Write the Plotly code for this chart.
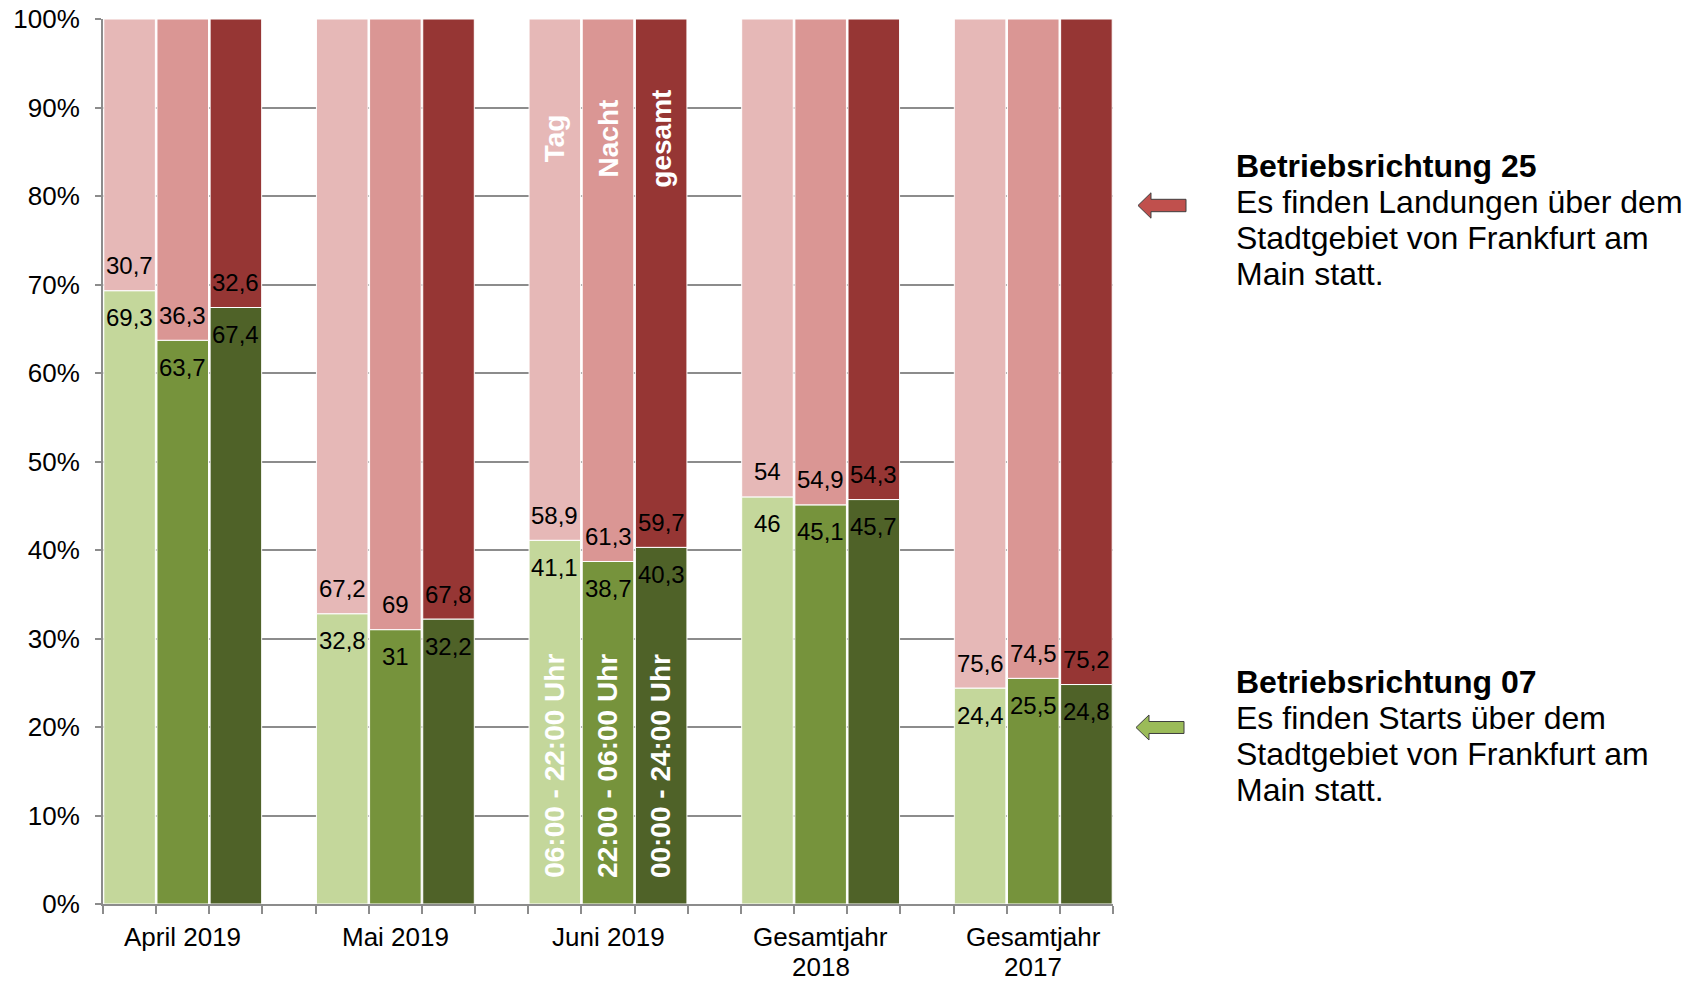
import plotly.graph_objects as go

# Anteile der Betriebsrichtungen (in %)
category_lines = [["April 2019"], ["Mai 2019"], ["Juni 2019"],
                  ["Gesamtjahr", "2018"], ["Gesamtjahr", "2017"]]
periods = ["Tag", "Nacht", "gesamt"]
period_hours = ["06:00 - 22:00 Uhr", "22:00 - 06:00 Uhr", "00:00 - 24:00 Uhr"]

br07_tag = [69.3, 32.8, 41.1, 46, 24.4]
br07_nacht = [63.7, 31, 38.7, 45.1, 25.5]
br07_gesamt = [67.4, 32.2, 40.3, 45.7, 24.8]

br25_tag = [30.7, 67.2, 58.9, 54, 75.6]
br25_nacht = [36.3, 69, 61.3, 54.9, 74.5]
br25_gesamt = [32.6, 67.8, 59.7, 54.3, 75.2]

y_ticks = list(range(0, 101, 10))

# Farben
green_colors = ["#C4D79B", "#76933C", "#4F6228"]
red_colors = ["#E6B8B7", "#DA9694", "#963634"]
GRID = "#8C8C8C"
FONT = "Liberation Sans, Arial, sans-serif"

W, H = 1691, 981
PLOT_L, PLOT_R, PLOT_T, PLOT_B = 103, 1113, 19, 904


def px_x(px):
    return (px - PLOT_L) / (PLOT_R - PLOT_L)


def px_y(py):
    return (PLOT_B - py) / (PLOT_B - PLOT_T)


def fmt(v):
    return f"{v:g}".replace(".", ",")


n_groups = len(category_lines)
slot = 4  # 3 Balken + 1 Leerspalte je Gruppe
green_series = [br07_tag, br07_nacht, br07_gesamt]
red_series = [br25_tag, br25_nacht, br25_gesamt]

fig = go.Figure()
annotations = []

for k in range(3):
    xs = [slot * g + k for g in range(n_groups)]
    fig.add_trace(go.Bar(
        x=xs, y=green_series[k], width=0.97,
        marker=dict(color=green_colors[k], line=dict(color="white", width=1)),
        name=f"BR 07 {periods[k]}", hoverinfo="skip",
    ))
for k in range(3):
    xs = [slot * g + k for g in range(n_groups)]
    fig.add_trace(go.Bar(
        x=xs, y=red_series[k], width=0.97,
        base=green_series[k],
        marker=dict(color=red_colors[k], line=dict(color="white", width=1)),
        name=f"BR 25 {periods[k]}", hoverinfo="skip",
    ))

# Wertebeschriftungen an der Grenze zwischen den Segmenten
for k in range(3):
    for g in range(n_groups):
        x = slot * g + k
        gv = green_series[k][g]
        rv = red_series[k][g]
        annotations.append(dict(
            x=x, y=gv, xref="x", yref="y", text=fmt(gv), showarrow=False,
            yanchor="middle", yshift=-27, font=dict(size=24, color="black", family=FONT)))
        annotations.append(dict(
            x=x, y=gv, xref="x", yref="y", text=fmt(rv), showarrow=False,
            yanchor="middle", yshift=25, font=dict(size=24, color="black", family=FONT)))

# Senkrechte Erläuterungen in der Juni-Gruppe
juni = 2
for k in range(3):
    x = slot * juni + k
    annotations.append(dict(
        x=x, y=86.5, xref="x", yref="y", text=f"<b>{periods[k]}</b>", textangle=-90,
        showarrow=False, font=dict(size=28, color="white", family=FONT)))
    annotations.append(dict(
        x=x, y=15.6, xref="x", yref="y", text=f"<b>{period_hours[k]}</b>", textangle=-90,
        showarrow=False, font=dict(size=28, color="white", family=FONT)))

# Kategorienbeschriftung unter der x-Achse
line_centers = [936.5, 967]
for g, lines in enumerate(category_lines):
    for i, line in enumerate(lines):
        annotations.append(dict(
            x=slot * g + 1, y=px_y(line_centers[i]), xref="x", yref="paper",
            text=line, showarrow=False, yanchor="middle",
            font=dict(size=26, color="black", family=FONT)))

# Erklärungstexte rechts
legend_blocks = [
    (["<b>Betriebsrichtung 25</b>", "Es finden Landungen über dem",
      "Stadtgebiet von Frankfurt am", "Main statt."], 166),
    (["<b>Betriebsrichtung 07</b>", "Es finden Starts über dem",
      "Stadtgebiet von Frankfurt am", "Main statt."], 682),
]
for lines, top in legend_blocks:
    for i, line in enumerate(lines):
        annotations.append(dict(
            x=px_x(1234), y=px_y(top + 36 * i), xref="paper", yref="paper",
            text=line, showarrow=False, xanchor="left", yanchor="middle",
            font=dict(size=32, color="black", family=FONT)))


def arrow_path(tip_x, cy, head_x, tail_x, head_h, shaft_h):
    pts = [(tip_x, cy), (head_x, cy - head_h), (head_x, cy - shaft_h),
           (tail_x, cy - shaft_h), (tail_x, cy + shaft_h), (head_x, cy + shaft_h),
           (head_x, cy + head_h)]
    return "M " + " L ".join(f"{px_x(a):.5f},{px_y(b):.5f}" for a, b in pts) + " Z"


shapes = [
    dict(type="path", xref="paper", yref="paper",
         path=arrow_path(1138, 205.5, 1151, 1186, 12.7, 6.2),
         fillcolor="#C0504D", line=dict(color="#3F3F3F", width=1)),
    dict(type="path", xref="paper", yref="paper",
         path=arrow_path(1136, 727.5, 1149, 1184, 12.5, 6.0),
         fillcolor="#9BBB59", line=dict(color="#3F3F3F", width=1)),
]

fig.update_layout(
    width=W, height=H,
    margin=dict(l=PLOT_L, r=W - PLOT_R, t=PLOT_T, b=H - PLOT_B, pad=0,
                autoexpand=False),
    barmode="overlay",
    showlegend=False,
    plot_bgcolor="white", paper_bgcolor="white",
    font=dict(family=FONT, color="black"),
    annotations=annotations,
    shapes=shapes,
    xaxis=dict(
        range=[-0.5, slot * n_groups - 1.5],
        tickvals=[v - 0.5 for v in range(slot * n_groups)],
        ticktext=[""] * (slot * n_groups),
        ticks="outside", ticklen=8, tickcolor=GRID, tickwidth=1.5,
        showline=True, linecolor=GRID, linewidth=2,
        showgrid=False, zeroline=False, fixedrange=True, automargin=False,
    ),
    yaxis=dict(
        range=[0, 100],
        tickvals=y_ticks, ticktext=[f"{v}%" for v in y_ticks],
        ticks="outside", ticklen=6, tickcolor=GRID, tickwidth=1.5,
        tickfont=dict(size=26, color="black", family=FONT),
        ticklabelstandoff=10,
        showline=True, linecolor=GRID, linewidth=2,
        showgrid=True, gridcolor=GRID, gridwidth=1.5,
        zeroline=False, fixedrange=True, automargin=False,
    ),
)

fig.write_html("out.html")
